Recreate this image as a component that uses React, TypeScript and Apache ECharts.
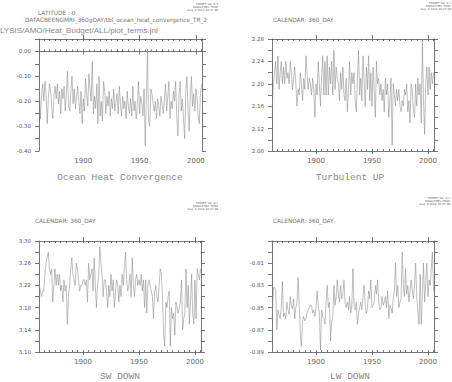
import React, { useEffect, useRef } from "react";
import * as echarts from "echarts";

const START_YEAR = 1861;

const OCEAN_HEAT = [
  -0.15, -0.27, -0.18, -0.13, -0.20, -0.12, -0.17, -0.29, -0.19, -0.13,
  -0.16, -0.22, -0.27, -0.18, -0.14, -0.19, -0.13, -0.21, -0.16, -0.25,
  -0.15, -0.19, -0.14, -0.24, -0.17, -0.08, -0.22, -0.24, -0.16, -0.10,
  -0.21, -0.15, -0.23, -0.18, -0.14, -0.20, -0.25, -0.16, -0.29, -0.19,
  -0.24, -0.11, -0.17, -0.22, -0.09, -0.15, -0.20, -0.04, -0.25, -0.18,
  -0.23, -0.13, -0.29, -0.10, -0.26, -0.20, -0.28, -0.12, -0.16, -0.25,
  -0.18, -0.22, -0.16, -0.26, -0.19, -0.23, -0.15, -0.24, -0.20, -0.17,
  -0.25, -0.14, -0.21, -0.26, -0.18, -0.23, -0.20, -0.27, -0.16, -0.22,
  -0.25, -0.19, -0.26, -0.14, -0.24, -0.20, -0.27, -0.22, -0.12, -0.25,
  -0.18, -0.21, -0.26, -0.15, -0.38, -0.20, 0.01, -0.28, -0.30, -0.15,
  -0.17, -0.21, -0.24, -0.20, -0.27, -0.19, -0.22, -0.26, -0.18, -0.21,
  -0.25, -0.19, -0.13, -0.24, -0.18, -0.12, -0.27, -0.20, -0.23, -0.16,
  -0.20, -0.12, -0.26, -0.34, -0.18, -0.12, -0.24, -0.19, -0.27, -0.35,
  -0.16, -0.10, -0.23, -0.32, -0.18, -0.10, -0.22, -0.17, -0.24, -0.15,
  -0.19, -0.26, -0.29, -0.17, -0.13,
];

const TURBULENT_UP = [
  2.157, 2.20, 2.22, 2.24, 2.20, 2.25, 2.19, 2.22, 2.24, 2.20,
  2.23, 2.20, 2.24, 2.21, 2.22, 2.20, 2.24, 2.22, 2.19, 2.21,
  2.23, 2.20, 2.16, 2.19, 2.18, 2.22, 2.20, 2.17, 2.21, 2.19,
  2.25, 2.22, 2.19, 2.21, 2.20, 2.18, 2.21, 2.19, 2.14, 2.20,
  2.18, 2.24, 2.20, 2.16, 2.21, 2.25, 2.18, 2.24, 2.18, 2.25,
  2.18, 2.23, 2.20, 2.24, 2.18, 2.26, 2.19, 2.23, 2.21, 2.20,
  2.17, 2.22, 2.19, 2.23, 2.18, 2.17, 2.21, 2.15, 2.19, 2.24,
  2.18, 2.22, 2.20, 2.22, 2.17, 2.15, 2.21, 2.26, 2.18, 2.21,
  2.17, 2.25, 2.20, 2.16, 2.23, 2.19, 2.25, 2.17, 2.22, 2.16,
  2.23, 2.19, 2.14, 2.24, 2.20, 2.21, 2.18, 2.20, 2.17, 2.19,
  2.15, 2.21, 2.18, 2.20, 2.14, 2.17, 2.21, 2.09, 2.20, 2.18,
  2.16, 2.19, 2.17, 2.19, 2.16, 2.15, 2.17, 2.16, 2.19, 2.18,
  2.20, 2.15, 2.17, 2.13, 2.20, 2.19, 2.15, 2.14, 2.20, 2.16,
  2.21, 2.18, 2.20, 2.13, 2.28, 2.17, 2.11, 2.20, 2.23, 2.18,
  2.23, 2.19, 2.22, 2.20, 2.22,
];

const SW_DOWN = [
  3.22, 3.21, 3.20, 3.21, 3.21, 3.24, 3.26, 3.27, 3.28, 3.25,
  3.24, 3.25, 3.19, 3.22, 3.25, 3.22, 3.24, 3.22, 3.24, 3.21,
  3.22, 3.19, 3.23, 3.21, 3.22, 3.15, 3.20, 3.22, 3.25, 3.27,
  3.24, 3.23, 3.22, 3.26, 3.25, 3.23, 3.21, 3.22, 3.22, 3.23,
  3.23, 3.22, 3.23, 3.19, 3.26, 3.23, 3.24, 3.25, 3.21, 3.27,
  3.22, 3.18, 3.22, 3.24, 3.29, 3.26, 3.24, 3.20, 3.23, 3.23,
  3.21, 3.18, 3.22, 3.20, 3.24, 3.21, 3.23, 3.18, 3.21, 3.23,
  3.22, 3.19, 3.22, 3.20, 3.24, 3.22, 3.25, 3.28, 3.23, 3.21,
  3.22, 3.24, 3.20, 3.27, 3.22, 3.20, 3.23, 3.24, 3.22, 3.23,
  3.22, 3.24, 3.21, 3.23, 3.18, 3.23, 3.17, 3.22, 3.23, 3.22,
  3.21, 3.20, 3.16, 3.21, 3.22, 3.20, 3.19, 3.22, 3.25, 3.24,
  3.20, 3.13, 3.11, 3.19, 3.18, 3.20, 3.21, 3.11, 3.18, 3.16,
  3.17, 3.13, 3.19, 3.18, 3.17, 3.18, 3.19, 3.23, 3.14, 3.16,
  3.17, 3.25, 3.18, 3.22, 3.15, 3.19, 3.24, 3.17, 3.15, 3.23,
  3.16, 3.25, 3.24, 3.23, 3.25,
];

const LW_DOWN = [
  -0.855, -0.832, -0.832, -0.834, -0.870, -0.852, -0.857, -0.860, -0.850, -0.826,
  -0.858, -0.855, -0.860, -0.845, -0.852, -0.856, -0.840, -0.848, -0.851, -0.842,
  -0.860, -0.850, -0.846, -0.823, -0.848, -0.872, -0.885, -0.862, -0.858, -0.862,
  -0.860, -0.855, -0.852, -0.850, -0.848, -0.848, -0.855, -0.852, -0.858, -0.850,
  -0.835, -0.848, -0.855, -0.888, -0.852, -0.858, -0.860, -0.865, -0.845, -0.830,
  -0.850, -0.845, -0.880, -0.862, -0.860, -0.830, -0.848, -0.840, -0.825, -0.838,
  -0.845, -0.830, -0.842, -0.838, -0.825, -0.846, -0.850, -0.845, -0.852, -0.840,
  -0.855, -0.848, -0.815, -0.850, -0.852, -0.845, -0.865, -0.856, -0.850, -0.845,
  -0.852, -0.840, -0.830, -0.848, -0.855, -0.850, -0.835, -0.842, -0.825, -0.850,
  -0.848, -0.845, -0.830, -0.838, -0.825, -0.845, -0.852, -0.850, -0.840, -0.848,
  -0.845, -0.840, -0.850, -0.835, -0.860, -0.848, -0.850, -0.855, -0.842, -0.835,
  -0.810, -0.840, -0.830, -0.850, -0.845, -0.842, -0.800, -0.830, -0.840, -0.815,
  -0.838, -0.830, -0.845, -0.835, -0.825, -0.835, -0.842, -0.830, -0.810, -0.840,
  -0.852, -0.865, -0.820, -0.865, -0.840, -0.810, -0.845, -0.828, -0.810, -0.840,
  -0.825, -0.830, -0.815, -0.800, -0.835,
];

const YEAR_LABELS = [1900, 1950, 2000];
const MINOR_YEARS = [
  1865, 1870, 1875, 1880, 1885, 1890, 1895, 1900, 1905, 1910, 1915, 1920, 1925, 1930, 1935,
  1940, 1945, 1950, 1955, 1960, 1965, 1970, 1975, 1980, 1985, 1990, 1995, 2000, 2005,
];

const PANEL_TITLES = ["Ocean Heat Convergence", "Turbulent UP", "SW DOWN", "LW DOWN"];

const Y1_LABELS = [-0.4, -0.3, -0.2, -0.1, 0.0];
const Y1_TICKS = [-0.4, -0.35, -0.3, -0.25, -0.2, -0.15, -0.1, -0.05, 0.0, 0.05];
const Y2_LABELS = [2.08, 2.12, 2.16, 2.2, 2.24, 2.28];
const Y2_TICKS = [2.08, 2.1, 2.12, 2.14, 2.16, 2.18, 2.2, 2.22, 2.24, 2.26, 2.28];
const Y3_LABELS = [3.1, 3.14, 3.18, 3.22, 3.26, 3.3];
const Y3_TICKS = [3.1, 3.12, 3.14, 3.16, 3.18, 3.2, 3.22, 3.24, 3.26, 3.28, 3.3];
const Y4_LABELS = [-0.89, -0.87, -0.85, -0.83, -0.81];
const Y4_TICKS = [-0.89, -0.88, -0.87, -0.86, -0.85, -0.84, -0.83, -0.82, -0.81, -0.8, -0.79];

const Y_RANGES = [
  [-0.4, 0.05],
  [2.08, 2.28],
  [3.1, 3.3],
  [-0.89, -0.79],
];

const HEADER_STAMP = ["FERRET Ver. 6.1", "NOAA/PMEL TMAP", "Aug  9 2012 16:27:48"];
const HEADER_DATASET = "DATACBEENGMRI_360gDAY/tbl_ocean_heat_convergence_TR_2";
const HEADER_LATITUDE = "LATITUDE : 0";
const HEADER_CALENDAR = "CALENDAR: 360_DAY";
const HEADER_SCRIPT = "LYSIS/AMO/Heat_Budget/ALL/plot_terms.jnl";

export default function App() {
  const ref = useRef<HTMLDivElement>(null);

  useEffect(() => {
    document.body.style.margin = "0";
    if (!ref.current) return;
    const chart = echarts.init(ref.current, null, { renderer: "svg" });

    const seriesData = [OCEAN_HEAT, TURBULENT_UP, SW_DOWN, LW_DOWN];
    const yLabels = [Y1_LABELS, Y2_LABELS, Y3_LABELS, Y4_LABELS];
    const yTicks = [Y1_TICKS, Y2_TICKS, Y3_TICKS, Y4_TICKS];

    const grids = [
      { left: 39, top: 39, width: 163, height: 112 },
      { left: 272, top: 39, width: 162, height: 112 },
      { left: 39, top: 241, width: 162, height: 111 },
      { left: 272, top: 241, width: 162, height: 111 },
    ];

    const XMIN = 1860.7;
    const XMAX = 2005.4;
    const axisLine = { show: true, lineStyle: { color: "#555", width: 0.8 } };
    const tickStyle = { color: "#555", width: 0.8 };

    const xAxes: any[] = [];
    const yAxes: any[] = [];
    const series: any[] = [];

    grids.forEach((_, g) => {
      const base = { type: "value", gridIndex: g, min: XMIN, max: XMAX, splitLine: { show: false } };
      xAxes.push({
        ...base,
        position: "bottom",
        axisLine,
        axisTick: { show: true, customValues: YEAR_LABELS, length: 3, lineStyle: tickStyle },
        axisLabel: {
          customValues: YEAR_LABELS,
          formatter: (v: number) => String(v),
          fontSize: 7,
          color: "#666",
          fontFamily: "DejaVu Sans",
          margin: 6,
        },
      });
      xAxes.push({
        ...base,
        position: "bottom",
        axisLine: { show: false },
        axisTick: { show: true, customValues: MINOR_YEARS, inside: true, length: 2, lineStyle: tickStyle },
        axisLabel: { show: false },
      });
      xAxes.push({
        ...base,
        position: "top",
        axisLine,
        axisTick: { show: true, customValues: YEAR_LABELS, length: 4, lineStyle: tickStyle },
        axisLabel: { show: false },
      });
      xAxes.push({
        ...base,
        position: "top",
        axisLine: { show: false },
        axisTick: { show: true, customValues: MINOR_YEARS, inside: true, length: 2, lineStyle: tickStyle },
        axisLabel: { show: false },
      });

      const [ymin, ymax] = Y_RANGES[g];
      const ybase = { type: "value", gridIndex: g, min: ymin, max: ymax, splitLine: { show: false } };
      yAxes.push({
        ...ybase,
        position: "left",
        axisLine,
        axisTick: { show: true, customValues: yTicks[g], length: 4, lineStyle: tickStyle },
        axisLabel: {
          customValues: yLabels[g],
          formatter: (v: number) => v.toFixed(2),
          fontSize: 5.5,
          color: "#555",
          fontFamily: "DejaVu Sans",
          margin: 8,
        },
      });
      yAxes.push({
        ...ybase,
        position: "right",
        axisLine,
        axisTick: { show: true, customValues: yTicks[g], length: 4, lineStyle: tickStyle },
        axisLabel: { show: false },
      });

      series.push({
        type: "line",
        xAxisIndex: g * 4,
        yAxisIndex: g * 2,
        showSymbol: false,
        symbol: "none",
        lineStyle: { color: "#8a8a8a", width: 0.55 },
        data: seriesData[g].map((v, i) => [START_YEAR + i, v]),
      });
    });

    const textStyle = (extra: any) => ({ fill: "#777", fontFamily: "DejaVu Sans", ...extra });

    const graphics: any[] = [];
    const titlePos = [
      [120, 177],
      [350, 177],
      [120, 376],
      [350, 376],
    ];
    PANEL_TITLES.forEach((t, i) => {
      graphics.push({
        type: "text",
        x: titlePos[i][0],
        y: titlePos[i][1],
        style: textStyle({
          text: t,
          fontSize: 9.5,
          fontFamily: "Liberation Mono",
          fill: "#888",
          textAlign: "center",
          textVerticalAlign: "middle",
        }),
      });
    });

    const stampPos = [
      [218, 2],
      [451, 1],
      [218, 201],
      [450, 196],
    ];
    stampPos.forEach(([x, y]) => {
      graphics.push({
        type: "text",
        x,
        y,
        style: textStyle({
          text: HEADER_STAMP.join("\n"),
          fontSize: 2.8,
          lineHeight: 3.2,
          fill: "#666",
          textAlign: "right",
          textVerticalAlign: "top",
        }),
      });
    });

    const calendarPos = [
      [273, 20],
      [35, 221],
      [273, 221],
    ];
    calendarPos.forEach(([x, y]) => {
      graphics.push({
        type: "text",
        x,
        y,
        style: textStyle({ text: HEADER_CALENDAR, fontSize: 5.8, textVerticalAlign: "middle" }),
      });
    });

    graphics.push({
      type: "text",
      x: 38,
      y: 13,
      style: textStyle({ text: HEADER_LATITUDE, fontSize: 5.8, textVerticalAlign: "middle" }),
    });
    graphics.push({
      type: "text",
      x: 25,
      y: 19.5,
      style: textStyle({ text: HEADER_DATASET, fontSize: 5.8, textVerticalAlign: "middle" }),
    });
    graphics.push({
      type: "text",
      x: 0,
      y: 30,
      style: textStyle({
        text: HEADER_SCRIPT,
        fontSize: 8,
        fontFamily: "Liberation Sans",
        fill: "#888",
        textVerticalAlign: "middle",
      }),
    });

    chart.setOption({
      animation: false,
      backgroundColor: "#ffffff",
      grid: grids.map((g) => ({ ...g, containLabel: false })),
      xAxis: xAxes,
      yAxis: yAxes,
      series,
      graphic: graphics,
    });

    return () => chart.dispose();
  }, []);

  return <div ref={ref} style={{ width: 452, height: 382 }} />;
}
